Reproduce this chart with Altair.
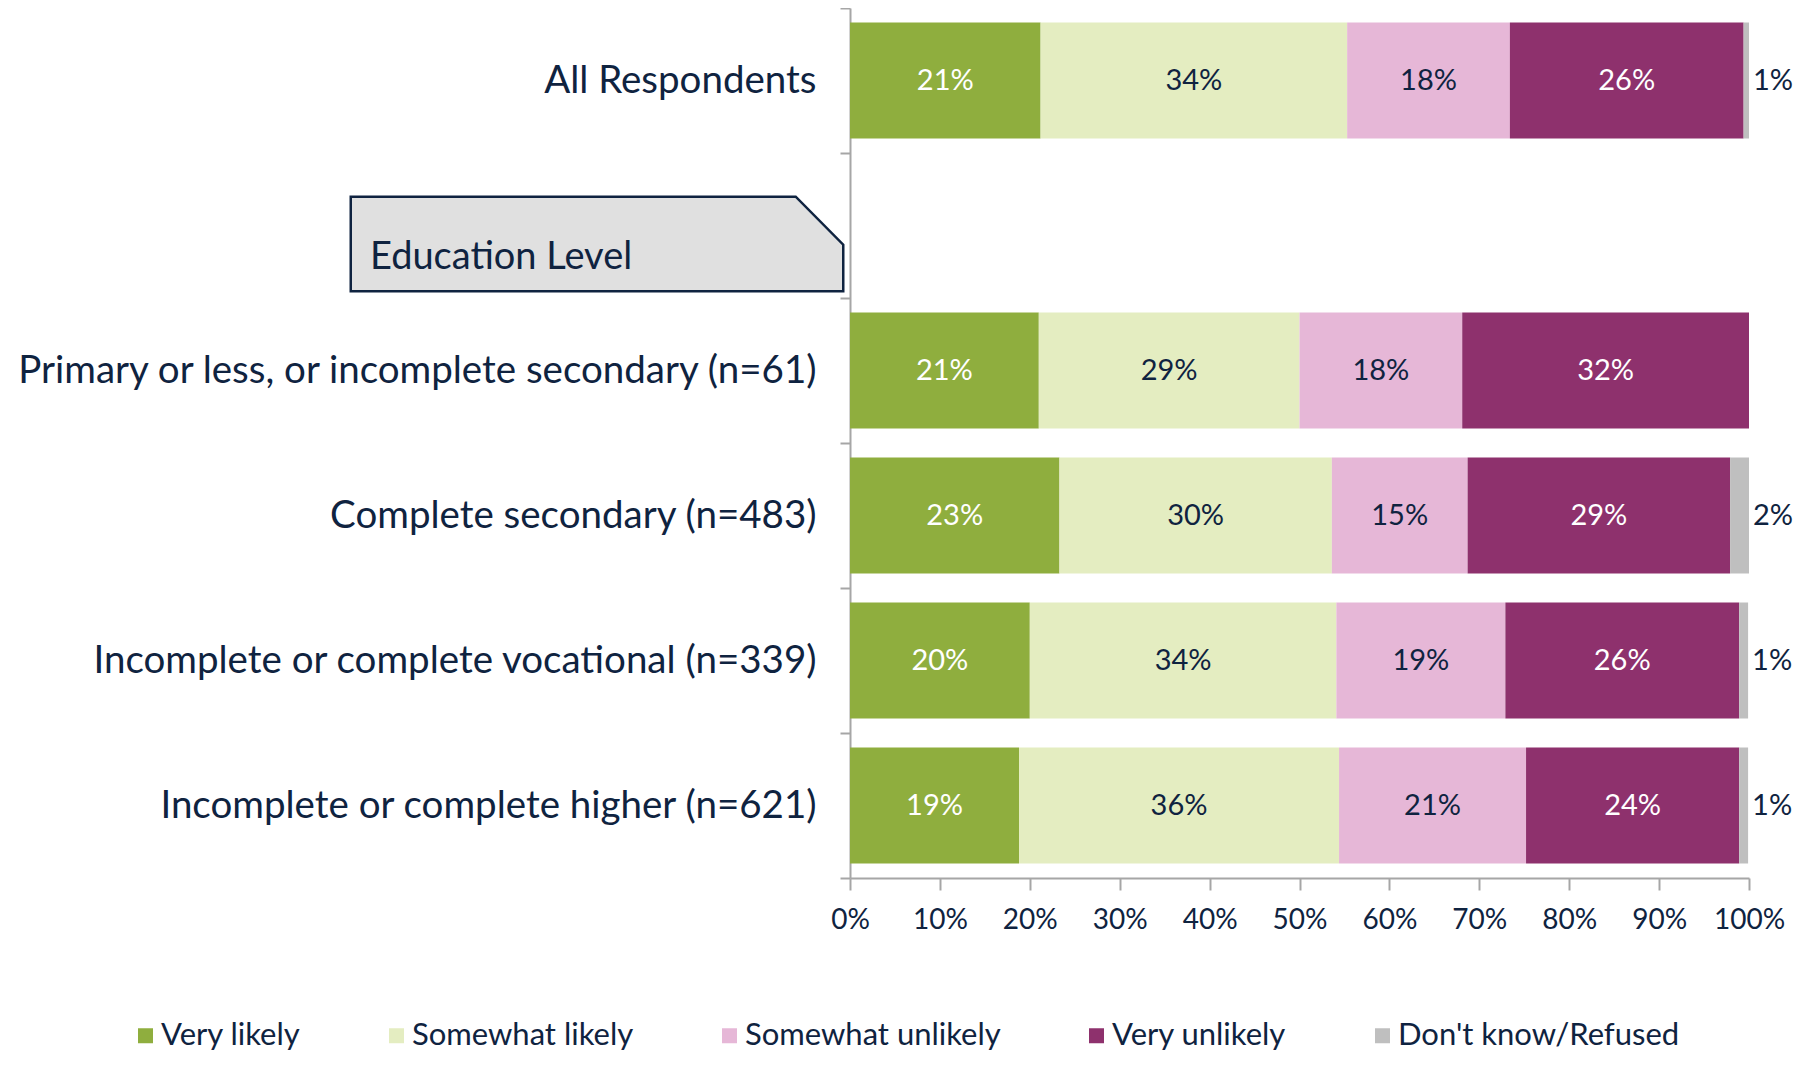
import altair as alt
import pandas as pd

NAVY = "#0F2340"
GRAY = "#A6A6A6"

groups = [
    "All Respondents",
    "Primary or less, or incomplete secondary (n=61)",
    "Complete secondary (n=483)",
    "Incomplete or complete vocational (n=339)",
    "Incomplete or complete higher (n=621)",
]
row_order = [groups[0], " "] + groups[1:]

responses = ["Very likely", "Somewhat likely", "Somewhat unlikely", "Very unlikely", "Don't know/Refused"]
colors = ["#8FAE3E", "#E4EDC1", "#E6B7D7", "#8E316D", "#BFBFBF"]

very_likely = [21.2, 21.0, 23.3, 20.0, 18.8]
somewhat_likely = [34.1, 29.0, 30.3, 34.1, 35.6]
somewhat_unlikely = [18.1, 18.1, 15.1, 18.8, 20.8]
very_unlikely = [26.0, 31.9, 29.2, 26.0, 23.7]
dont_know = [0.6, 0.0, 2.1, 1.0, 1.0]

series = [very_likely, somewhat_likely, somewhat_unlikely, very_unlikely, dont_know]

rows = []
for gi, g in enumerate(groups):
    cum = 0.0
    for ri, r in enumerate(responses):
        v = series[ri][gi]
        rows.append({"group": g, "response": r, "idx": ri, "value": v,
                     "start": cum, "end": cum + v})
        cum += v
df = pd.DataFrame(rows)

y_enc = alt.Y(
    "group:N",
    scale=alt.Scale(domain=row_order, paddingInner=0, paddingOuter=0),
    axis=alt.Axis(
        title=None, labelFontSize=38.5, labelColor=NAVY, tickBand="extent",
        tickSize=10, tickColor=GRAY, tickWidth=2, domainColor=GRAY, domainWidth=2,
        labelPadding=24, labelLimit=1200,
    ),
)
x_enc = alt.X(
    "start:Q",
    scale=alt.Scale(domain=[0, 100], nice=False),
    axis=alt.Axis(
        title=None, values=list(range(0, 101, 10)), labelExpr="datum.value + '%'",
        labelFontSize=28, labelColor=NAVY, tickSize=12, tickColor=GRAY, tickWidth=2,
        domainColor=GRAY, domainWidth=2, labelPadding=16, grid=False,
        labelOverlap=False, labelFlush=False,
    ),
)

base = alt.Chart(df)

bars = base.mark_bar(height={"band": 0.8}).encode(
    x=x_enc,
    x2="end:Q",
    y=y_enc,
    color=alt.Color(
        "response:N",
        scale=alt.Scale(domain=responses, range=colors),
        legend=alt.Legend(
            orient="none", legendX=-720, legendY=1012, direction="horizontal",
            title=None, symbolType="square", symbolSize=225, symbolStrokeWidth=0,
            labelFontSize=31, labelColor=NAVY, columnPadding=80, labelLimit=500,
            labelOffset=0,
        ),
    ),
    order=alt.Order("idx:Q"),
)

inside = base.transform_filter(
    alt.datum.response != "Don't know/Refused"
).transform_calculate(
    mid="(datum.start + datum.end) / 2",
    label="format(datum.value, '.0f') + '%'",
).mark_text(fontSize=29, baseline="middle", align="center").encode(
    x="mid:Q",
    y=alt.Y("group:N"),
    text="label:N",
    color=alt.condition(
        alt.FieldOneOfPredicate(field="response", oneOf=["Very likely", "Very unlikely"]),
        alt.value("white"),
        alt.value(NAVY),
    ),
)

outside = base.transform_filter(
    (alt.datum.response == "Don't know/Refused") & (alt.datum.value > 0)
).transform_calculate(
    label="format(datum.value, '.0f') + '%'",
).mark_text(fontSize=29, baseline="middle", align="center", dx=24, color=NAVY).encode(
    x="end:Q",
    y=alt.Y("group:N"),
    text="label:N",
)

BOX_PATH = "M-1,-0.192 L0.807,-0.192 L1,0.003 L1,0.192 L-1,0.192 Z"
box = alt.Chart(pd.DataFrame({"k": [0]})).mark_point(
    shape=BOX_PATH, size=492.5 * 492.5, filled=True, fill="#E0E0E0",
    stroke=NAVY, strokeWidth=2.5, opacity=1,
).encode(x=alt.value(-253), y=alt.value(236))

box_text = alt.Chart(pd.DataFrame({"k": [0]})).mark_text(
    text="Education Level", align="left", baseline="alphabetic",
    fontSize=38, color=NAVY,
).encode(x=alt.value(-480), y=alt.value(261))

chart = alt.layer(bars, inside, outside, box, box_text).properties(
    width=899, height=870,
    padding={"left": 842, "top": 0, "right": 45, "bottom": 180},
    autosize=alt.AutoSizeParams(type="none"),
).configure(font="Lato").configure_view(stroke=None)

chart.save("out.html", embed_options={"renderer": "svg", "actions": False})
